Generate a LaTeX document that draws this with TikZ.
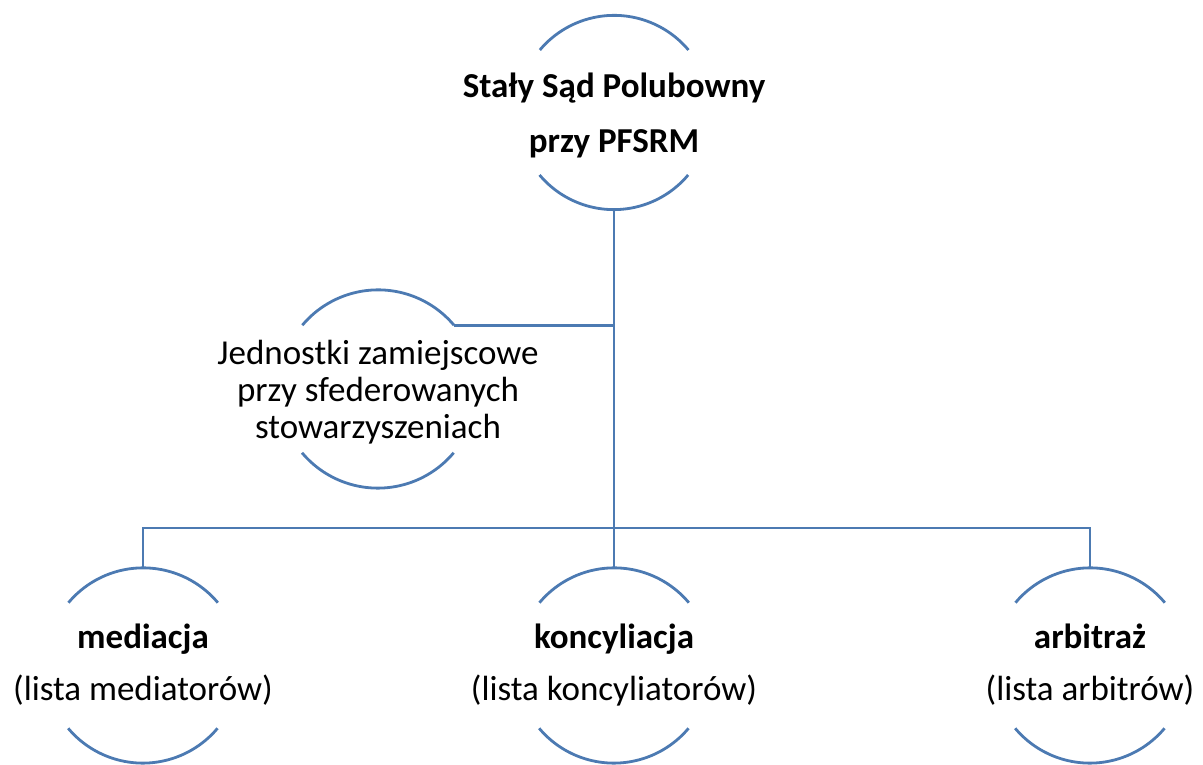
\documentclass[tikz,border=0pt]{standalone}
\usepackage{fontspec}
\setmainfont{Carlito}
\definecolor{arcblue}{RGB}{76,122,178}
\begin{document}
\begin{tikzpicture}[x=1pt,y=1pt,
  ring/.style={circle,minimum size=#1,inner sep=0pt},
  arcline/.style={draw=arcblue,line width=2.8pt},
  conn/.style={draw=arcblue,line width=2.8pt},
  label/.style={align=center,inner sep=0pt,font=\fontsize{35}{#1}\selectfont}]
\useasboundingbox (0,0) rectangle (1203,765);
% circles (invisible), arcs drawn from their border
\node[ring=194pt] (topc) at (614,652.5) {};
\node[ring=198pt] (leftc) at (378,376) {};
\node[ring=195pt] (medc) at (143,99.5) {};
\node[ring=195pt] (konc) at (614,99.5) {};
\node[ring=195pt] (arbc) at (1090,99.5) {};
\foreach \n/\r in {topc/97,leftc/99,medc/97.5,konc/97.5,arbc/97.5}{
  \draw[arcline] (\n.40) arc[start angle=40,end angle=140,radius=\r];
  \draw[arcline] (\n.220) arc[start angle=220,end angle=320,radius=\r];
}
% texts
\node[label=55pt] (toptext) at (614,650) {\bfseries Stały Sąd Polubowny\\\bfseries przy PFSRM};
\node[label=37pt] (lefttext) at (378,373) {Jednostki zamiejscowe\\przy sfederowanych\\stowarzyszeniach};
\node[label=52pt] (medtext) at (143,100) {\bfseries mediacja\\(lista mediatorów)};
\node[label=52pt] (kontext) at (614,100) {\bfseries koncyliacja\\(lista koncyliatorów)};
\node[label=52pt] (arbtext) at (1090,100) {\bfseries arbitraż\\(lista arbitrów)};
% connectors
\coordinate (bus) at (614,237);
\draw[conn] (topc.south) -- (konc.north);
\draw[conn] (leftc.40) -- (leftc.40 -| topc.south);
\draw[conn] (medc.north) -- (medc.north |- bus) -- (arbc.north |- bus) -- (arbc.north);
\end{tikzpicture}
\end{document}
